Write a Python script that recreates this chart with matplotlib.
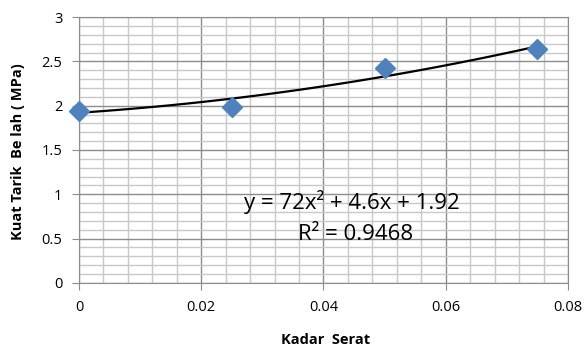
import numpy as np
import matplotlib.pyplot as plt
from matplotlib.ticker import MultipleLocator

kadar_serat = [0.0, 0.025, 0.05, 0.075]
kuat_tarik = [1.94, 1.99, 2.42, 2.64]
trend_coef = [72, 4.6, 1.92]
x_ticks = [0, 0.02, 0.04, 0.06, 0.08]
x_labels = ['0', '0.02', '0.04', '0.06', '0.08']
y_ticks = [0, 0.5, 1, 1.5, 2, 2.5, 3]
y_labels = ['0', '0.5', '1', '1.5', '2', '2.5', '3']

plt.rcParams['font.family'] = ['Open Sans', 'DejaVu Sans']

fig = plt.figure(figsize=(5.87, 3.48), dpi=100)
ax = fig.add_axes([0.1346, 0.187, 0.833, 0.764])

ax.set_xticks(x_ticks, x_labels)
ax.set_yticks(y_ticks, y_labels)
ax.xaxis.set_minor_locator(MultipleLocator(0.004))
ax.yaxis.set_minor_locator(MultipleLocator(0.1))
ax.set_xlim(0, 0.08)
ax.set_ylim(0, 3)
ax.grid(which='major', color='#8c8c8c', linewidth=1.0)
ax.grid(which='minor', color='#c8c8c8', linewidth=1.0)
ax.set_axisbelow(True)
for s in ax.spines.values():
    s.set_color('#8c8c8c')
ax.tick_params(which='major', length=5, color='#8c8c8c', labelsize=10.5, pad=7)
ax.tick_params(which='minor', length=0)

# polynomial trendline (Excel style)
xs = np.linspace(0, 0.075, 100)
ax.plot(xs, np.polyval(trend_coef, xs), color='black', linewidth=1.6, zorder=3)
ax.plot(kadar_serat, kuat_tarik, linestyle='none', marker='D', markersize=10.5,
        color='#4f81bd', zorder=4, clip_on=False)

ax.text(0.0447, 0.91, 'y = 72x² + 4.6x + 1.92', fontsize=16, ha='center', va='center')
ax.text(0.0452, 0.55, 'R² = 0.9468', fontsize=16, ha='center', va='center')

fig.text(0.031, 0.563, 'Kuat Tarik  Be lah ( MPa)', rotation=90, fontsize=10.5,
         fontweight='bold', ha='center', va='center')
fig.text(0.554, 0.022, 'Kadar  Serat', fontsize=10.5, fontweight='bold', ha='center', va='center')

fig.savefig('out.png', dpi=100)
